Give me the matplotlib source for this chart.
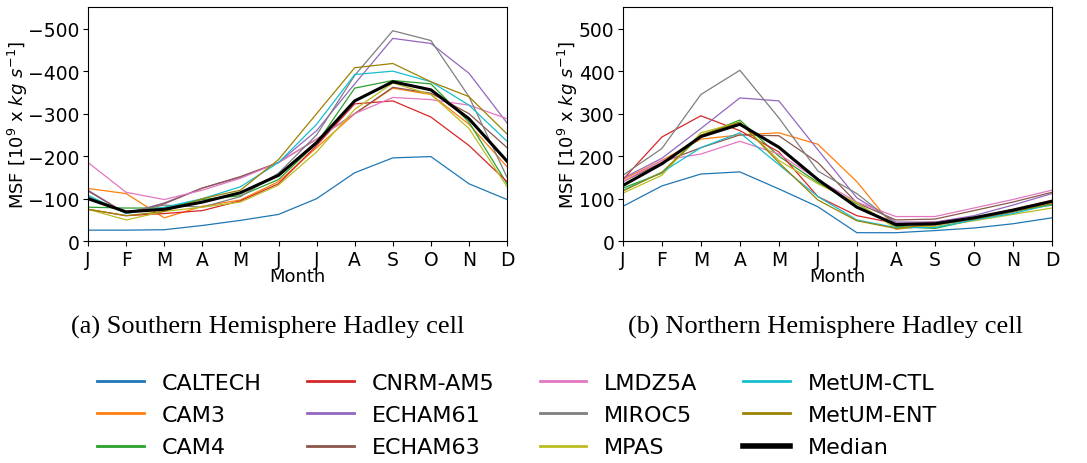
import numpy as np
import matplotlib
matplotlib.use("Agg")
import matplotlib.pyplot as plt

months = ["J", "F", "M", "A", "M", "J", "J", "A", "S", "O", "N", "D"]

models = ["CALTECH", "CAM3", "CAM4", "CNRM-AM5", "ECHAM61", "ECHAM63",
          "LMDZ5A", "MIROC5", "MPAS", "MetUM-CTL", "MetUM-ENT", "Median"]
colors = ["#1f77b4", "#ff7f0e", "#2ca02c", "#d62728", "#9467bd", "#8c564b",
          "#e377c2", "#7f7f7f", "#bcbd22", "#17becf", "#9b8300", "black"]

# Hemisferio Sul (valores negativos)
sh_caltech = [-26, -26, -27, -37, -49, -63, -100, -161, -196, -199, -135, -98]
sh_cam3 = [-124, -112, -55, -82, -97, -140, -220, -300, -360, -345, -275, -175]
sh_cam4 = [-80, -78, -78, -98, -107, -145, -230, -360, -378, -370, -280, -135]
sh_cnrm = [-75, -60, -65, -72, -95, -135, -225, -323, -330, -292, -225, -140]
sh_echam61 = [-120, -65, -90, -125, -150, -185, -260, -370, -477, -465, -395, -278]
sh_echam63 = [-118, -65, -88, -125, -152, -185, -240, -300, -362, -348, -300, -220]
sh_lmdz = [-185, -115, -98, -120, -148, -185, -240, -300, -338, -333, -320, -288]
sh_miroc = [-105, -68, -85, -80, -105, -160, -250, -390, -495, -472, -340, -150]
sh_mpas = [-75, -50, -70, -80, -92, -132, -210, -310, -372, -345, -265, -128]
sh_ctl = [-108, -65, -80, -100, -128, -185, -275, -392, -400, -375, -320, -235]
sh_ent = [-75, -60, -70, -100, -120, -192, -300, -408, -418, -375, -340, -252]
sh_median = [-100, -69, -75, -92, -114, -155, -232, -330, -375, -356, -288, -188]

# Hemisferio Norte
nh_caltech = [82, 130, 158, 163, 123, 81, 20, 20, 25, 31, 41, 55]
nh_cam3 = [145, 190, 240, 250, 255, 228, 140, 28, 38, 55, 75, 96]
nh_cam4 = [125, 160, 248, 285, 200, 138, 88, 35, 30, 50, 70, 85]
nh_cnrm = [145, 245, 295, 260, 210, 105, 60, 42, 45, 55, 72, 92]
nh_echam61 = [148, 195, 265, 337, 330, 215, 102, 45, 45, 60, 85, 112]
nh_echam63 = [140, 185, 220, 250, 248, 185, 90, 50, 52, 72, 92, 115]
nh_lmdz = [140, 190, 205, 235, 205, 145, 92, 58, 58, 78, 98, 120]
nh_miroc = [155, 218, 345, 402, 290, 165, 112, 40, 38, 50, 68, 92]
nh_mpas = [113, 155, 255, 280, 190, 135, 90, 30, 35, 48, 63, 78]
nh_ctl = [120, 162, 220, 255, 180, 105, 50, 32, 32, 50, 65, 87]
nh_ent = [118, 162, 250, 280, 185, 97, 48, 30, 40, 52, 70, 88]
nh_median = [131, 182, 246, 275, 221, 145, 80, 39, 41, 55, 73, 94]

sh = [sh_caltech, sh_cam3, sh_cam4, sh_cnrm, sh_echam61, sh_echam63,
      sh_lmdz, sh_miroc, sh_mpas, sh_ctl, sh_ent, sh_median]
nh = [nh_caltech, nh_cam3, nh_cam4, nh_cnrm, nh_echam61, nh_echam63,
      nh_lmdz, nh_miroc, nh_mpas, nh_ctl, nh_ent, nh_median]

fig = plt.figure(figsize=(10.87, 4.64), dpi=100)
ax1 = fig.add_axes([0.081, 0.478, 0.3855, 0.504])
ax2 = fig.add_axes([0.573, 0.478, 0.3947, 0.504])

x = np.arange(12)
for ax, data in [(ax1, sh), (ax2, nh)]:
    for name, c, y in zip(models, colors, data):
        if name == "Median":
            ax.plot(x, y, color=c, lw=2.2, label=name, zorder=5)
        else:
            ax.plot(x, y, color=c, lw=0.9, label=name)
    ax.set_xlim(0, 11)
    ax.set_xticks(x)
    ax.set_xticklabels(months)
    ax.set_xlabel("Month", fontsize=13, labelpad=-1)
    ax.set_ylabel(r"MSF [$10^9$ x $kg$ $s^{-1}$]", fontsize=13, labelpad=-1)
    ax.tick_params(labelsize=13.5, pad=2.5)

ax1.set_ylim(0, -550)
ax1.set_yticks([0, -100, -200, -300, -400, -500])
ax2.set_ylim(0, 550)
ax2.set_yticks([0, 100, 200, 300, 400, 500])

fig.text(268 / 1087, 1 - 327 / 464, "(a) Southern Hemisphere Hadley cell",
         ha="center", va="center", family="Liberation Serif", fontsize=19)
fig.text(825 / 1087, 1 - 327 / 464, "(b) Northern Hemisphere Hadley cell",
         ha="center", va="center", family="Liberation Serif", fontsize=19)

handles, labels = ax1.get_legend_handles_labels()
leg = fig.legend(handles, labels, ncol=4, loc="center",
                 bbox_to_anchor=(517 / 1087, 1 - 416 / 464),
                 frameon=False, fontsize=16, columnspacing=2.05,
                 handlelength=2.1, handletextpad=0.8, labelspacing=0.56)
for line in leg.get_lines():
    line.set_linewidth(2)
leg.get_lines()[-1].set_linewidth(4)

plt.savefig("out.png", dpi=100)
